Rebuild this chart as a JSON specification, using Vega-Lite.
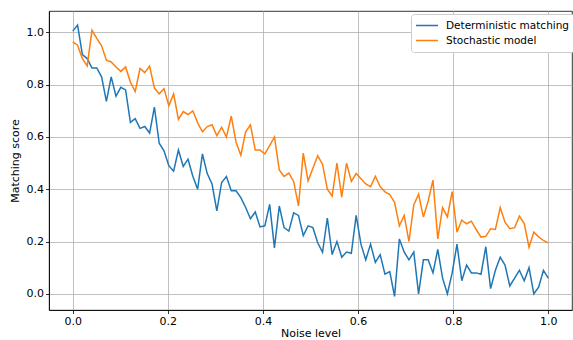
{
  "$schema": "https://vega.github.io/schema/vega-lite/v6.json",
  "width": 523,
  "height": 299,
  "autosize": {"type": "none"},
  "padding": {"left": 49, "top": 11, "right": 1, "bottom": 30},
  "background": "white",
  "config": {
    "font": "DejaVu Sans",
    "view": {"stroke": "black", "strokeWidth": 0.8},
    "axis": {
      "domainColor": "black",
      "domainWidth": 0.8,
      "tickColor": "black",
      "tickWidth": 0.8,
      "tickSize": 3.5,
      "labelFont": "DejaVu Sans",
      "labelFontSize": 11,
      "labelColor": "black",
      "labelPadding": 2,
      "titleFont": "DejaVu Sans",
      "titleFontSize": 11,
      "titleFontWeight": "normal",
      "titleColor": "black",
      "gridColor": "#b0b0b0",
      "gridWidth": 0.8,
      "gridOpacity": 1
    }
  },
  "data": {
    "values": [
      {"x": 0.0000, "Deterministic matching": 1.005, "Stochastic model": 0.964},
      {"x": 0.0101, "Deterministic matching": 1.028, "Stochastic model": 0.951},
      {"x": 0.0202, "Deterministic matching": 0.915, "Stochastic model": 0.900},
      {"x": 0.0303, "Deterministic matching": 0.900, "Stochastic model": 0.872},
      {"x": 0.0404, "Deterministic matching": 0.864, "Stochastic model": 1.008},
      {"x": 0.0505, "Deterministic matching": 0.864, "Stochastic model": 0.977},
      {"x": 0.0606, "Deterministic matching": 0.830, "Stochastic model": 0.949},
      {"x": 0.0707, "Deterministic matching": 0.736, "Stochastic model": 0.894},
      {"x": 0.0808, "Deterministic matching": 0.830, "Stochastic model": 0.887},
      {"x": 0.0909, "Deterministic matching": 0.756, "Stochastic model": 0.868},
      {"x": 0.1010, "Deterministic matching": 0.790, "Stochastic model": 0.851},
      {"x": 0.1111, "Deterministic matching": 0.780, "Stochastic model": 0.868},
      {"x": 0.1212, "Deterministic matching": 0.656, "Stochastic model": 0.810},
      {"x": 0.1313, "Deterministic matching": 0.670, "Stochastic model": 0.774},
      {"x": 0.1414, "Deterministic matching": 0.633, "Stochastic model": 0.862},
      {"x": 0.1515, "Deterministic matching": 0.640, "Stochastic model": 0.846},
      {"x": 0.1616, "Deterministic matching": 0.615, "Stochastic model": 0.871},
      {"x": 0.1717, "Deterministic matching": 0.714, "Stochastic model": 0.787},
      {"x": 0.1818, "Deterministic matching": 0.576, "Stochastic model": 0.765},
      {"x": 0.1919, "Deterministic matching": 0.547, "Stochastic model": 0.785},
      {"x": 0.2020, "Deterministic matching": 0.490, "Stochastic model": 0.720},
      {"x": 0.2121, "Deterministic matching": 0.469, "Stochastic model": 0.765},
      {"x": 0.2222, "Deterministic matching": 0.550, "Stochastic model": 0.667},
      {"x": 0.2323, "Deterministic matching": 0.487, "Stochastic model": 0.697},
      {"x": 0.2424, "Deterministic matching": 0.515, "Stochastic model": 0.686},
      {"x": 0.2525, "Deterministic matching": 0.450, "Stochastic model": 0.700},
      {"x": 0.2626, "Deterministic matching": 0.400, "Stochastic model": 0.654},
      {"x": 0.2727, "Deterministic matching": 0.535, "Stochastic model": 0.620},
      {"x": 0.2828, "Deterministic matching": 0.460, "Stochastic model": 0.640},
      {"x": 0.2929, "Deterministic matching": 0.420, "Stochastic model": 0.647},
      {"x": 0.3030, "Deterministic matching": 0.317, "Stochastic model": 0.605},
      {"x": 0.3131, "Deterministic matching": 0.426, "Stochastic model": 0.637},
      {"x": 0.3232, "Deterministic matching": 0.449, "Stochastic model": 0.600},
      {"x": 0.3333, "Deterministic matching": 0.394, "Stochastic model": 0.680},
      {"x": 0.3434, "Deterministic matching": 0.394, "Stochastic model": 0.580},
      {"x": 0.3535, "Deterministic matching": 0.368, "Stochastic model": 0.530},
      {"x": 0.3636, "Deterministic matching": 0.330, "Stochastic model": 0.620},
      {"x": 0.3737, "Deterministic matching": 0.287, "Stochastic model": 0.646},
      {"x": 0.3838, "Deterministic matching": 0.313, "Stochastic model": 0.550},
      {"x": 0.3939, "Deterministic matching": 0.256, "Stochastic model": 0.550},
      {"x": 0.4040, "Deterministic matching": 0.260, "Stochastic model": 0.535},
      {"x": 0.4141, "Deterministic matching": 0.342, "Stochastic model": 0.567},
      {"x": 0.4242, "Deterministic matching": 0.176, "Stochastic model": 0.600},
      {"x": 0.4343, "Deterministic matching": 0.336, "Stochastic model": 0.474},
      {"x": 0.4444, "Deterministic matching": 0.253, "Stochastic model": 0.449},
      {"x": 0.4545, "Deterministic matching": 0.240, "Stochastic model": 0.462},
      {"x": 0.4646, "Deterministic matching": 0.310, "Stochastic model": 0.430},
      {"x": 0.4747, "Deterministic matching": 0.300, "Stochastic model": 0.336},
      {"x": 0.4848, "Deterministic matching": 0.223, "Stochastic model": 0.538},
      {"x": 0.4949, "Deterministic matching": 0.260, "Stochastic model": 0.432},
      {"x": 0.5051, "Deterministic matching": 0.253, "Stochastic model": 0.480},
      {"x": 0.5152, "Deterministic matching": 0.195, "Stochastic model": 0.528},
      {"x": 0.5253, "Deterministic matching": 0.159, "Stochastic model": 0.496},
      {"x": 0.5354, "Deterministic matching": 0.290, "Stochastic model": 0.400},
      {"x": 0.5455, "Deterministic matching": 0.150, "Stochastic model": 0.374},
      {"x": 0.5556, "Deterministic matching": 0.200, "Stochastic model": 0.500},
      {"x": 0.5657, "Deterministic matching": 0.140, "Stochastic model": 0.370},
      {"x": 0.5758, "Deterministic matching": 0.160, "Stochastic model": 0.500},
      {"x": 0.5859, "Deterministic matching": 0.155, "Stochastic model": 0.430},
      {"x": 0.5960, "Deterministic matching": 0.300, "Stochastic model": 0.460},
      {"x": 0.6061, "Deterministic matching": 0.190, "Stochastic model": 0.440},
      {"x": 0.6162, "Deterministic matching": 0.130, "Stochastic model": 0.420},
      {"x": 0.6263, "Deterministic matching": 0.190, "Stochastic model": 0.410},
      {"x": 0.6364, "Deterministic matching": 0.120, "Stochastic model": 0.450},
      {"x": 0.6465, "Deterministic matching": 0.150, "Stochastic model": 0.410},
      {"x": 0.6566, "Deterministic matching": 0.075, "Stochastic model": 0.390},
      {"x": 0.6667, "Deterministic matching": 0.085, "Stochastic model": 0.380},
      {"x": 0.6768, "Deterministic matching": -0.010, "Stochastic model": 0.350},
      {"x": 0.6869, "Deterministic matching": 0.210, "Stochastic model": 0.260},
      {"x": 0.6970, "Deterministic matching": 0.160, "Stochastic model": 0.300},
      {"x": 0.7071, "Deterministic matching": 0.130, "Stochastic model": 0.200},
      {"x": 0.7172, "Deterministic matching": 0.160, "Stochastic model": 0.340},
      {"x": 0.7273, "Deterministic matching": 0.000, "Stochastic model": 0.381},
      {"x": 0.7374, "Deterministic matching": 0.130, "Stochastic model": 0.294},
      {"x": 0.7475, "Deterministic matching": 0.130, "Stochastic model": 0.355},
      {"x": 0.7576, "Deterministic matching": 0.080, "Stochastic model": 0.435},
      {"x": 0.7677, "Deterministic matching": 0.170, "Stochastic model": 0.210},
      {"x": 0.7778, "Deterministic matching": 0.060, "Stochastic model": 0.330},
      {"x": 0.7879, "Deterministic matching": 0.000, "Stochastic model": 0.294},
      {"x": 0.7980, "Deterministic matching": 0.080, "Stochastic model": 0.391},
      {"x": 0.8081, "Deterministic matching": 0.190, "Stochastic model": 0.236},
      {"x": 0.8182, "Deterministic matching": 0.050, "Stochastic model": 0.282},
      {"x": 0.8283, "Deterministic matching": 0.110, "Stochastic model": 0.268},
      {"x": 0.8384, "Deterministic matching": 0.080, "Stochastic model": 0.278},
      {"x": 0.8485, "Deterministic matching": 0.080, "Stochastic model": 0.246},
      {"x": 0.8586, "Deterministic matching": 0.075, "Stochastic model": 0.217},
      {"x": 0.8687, "Deterministic matching": 0.180, "Stochastic model": 0.220},
      {"x": 0.8788, "Deterministic matching": 0.020, "Stochastic model": 0.249},
      {"x": 0.8889, "Deterministic matching": 0.090, "Stochastic model": 0.246},
      {"x": 0.8990, "Deterministic matching": 0.140, "Stochastic model": 0.330},
      {"x": 0.9091, "Deterministic matching": 0.110, "Stochastic model": 0.274},
      {"x": 0.9192, "Deterministic matching": 0.030, "Stochastic model": 0.249},
      {"x": 0.9293, "Deterministic matching": 0.060, "Stochastic model": 0.253},
      {"x": 0.9394, "Deterministic matching": 0.090, "Stochastic model": 0.297},
      {"x": 0.9495, "Deterministic matching": 0.050, "Stochastic model": 0.269},
      {"x": 0.9596, "Deterministic matching": 0.100, "Stochastic model": 0.178},
      {"x": 0.9697, "Deterministic matching": 0.000, "Stochastic model": 0.236},
      {"x": 0.9798, "Deterministic matching": 0.025, "Stochastic model": 0.218},
      {"x": 0.9899, "Deterministic matching": 0.090, "Stochastic model": 0.204},
      {"x": 1.0000, "Deterministic matching": 0.060, "Stochastic model": 0.195}
    ]
  },
  "transform": [
    {"fold": ["Deterministic matching", "Stochastic model"], "as": ["series", "score"]}
  ],
  "mark": {"type": "line", "strokeWidth": 1.5, "clip": true},
  "encoding": {
    "x": {
      "field": "x",
      "type": "quantitative",
      "scale": {"domain": [-0.05, 1.05], "nice": false, "zero": false},
      "axis": {"title": "Noise level", "values": [0, 0.2, 0.4, 0.6, 0.8, 1.0], "format": ".1f", "titlePadding": 1}
    },
    "y": {
      "field": "score",
      "type": "quantitative",
      "scale": {"domain": [-0.062, 1.082], "nice": false, "zero": false},
      "axis": {"title": "Matching score", "values": [0, 0.2, 0.4, 0.6, 0.8, 1.0], "format": ".1f", "titlePadding": 6}
    },
    "color": {
      "field": "series",
      "type": "nominal",
      "scale": {"domain": ["Deterministic matching", "Stochastic model"], "range": ["#1f77b4", "#ff7f0e"]},
      "legend": {
        "title": null,
        "orient": "none",
        "legendX": 362,
        "legendY": 3,
        "symbolType": "stroke",
        "symbolSize": 484,
        "symbolStrokeWidth": 1.5,
        "labelFontSize": 10.5,
        "labelFont": "DejaVu Sans",
        "labelColor": "black",
        "labelOffset": 7,
        "labelLimit": 200,
        "clipHeight": 15,
        "rowPadding": 0,
        "padding": 4,
        "fillColor": "white",
        "strokeColor": "#cccccc",
        "cornerRadius": 3
      }
    }
  }
}
